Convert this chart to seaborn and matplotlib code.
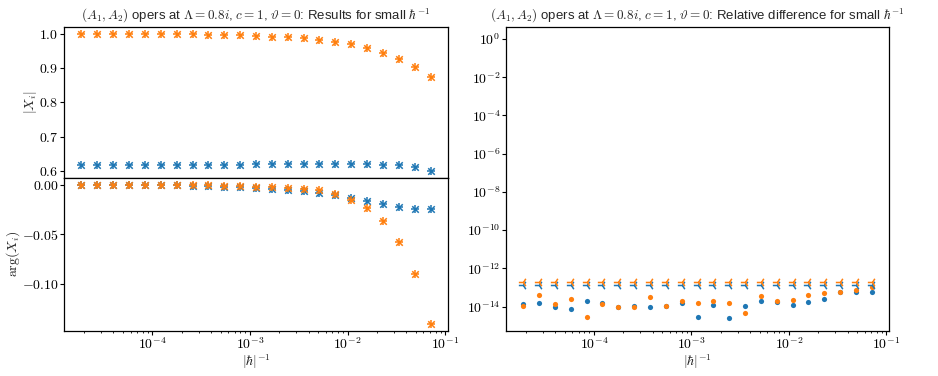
import numpy as np
import pandas as pd
import matplotlib
matplotlib.use("Agg")
import matplotlib.pyplot as plt
import seaborn as sns

sns.set_theme(style="ticks")
plt.rcParams["font.family"] = "cmr10"
plt.rcParams["mathtext.fontset"] = "cm"
plt.rcParams["axes.formatter.use_mathtext"] = True
plt.rcParams["axes.edgecolor"] = "black"
plt.rcParams["xtick.color"] = "black"
plt.rcParams["ytick.color"] = "black"
plt.rcParams["font.size"] = 10
plt.rcParams["axes.labelsize"] = 10
plt.rcParams["axes.labelpad"] = 2

BLUE = "#1f77b4"
ORANGE = "#ff7f0e"

# 1/|hbar| values
inv_hbar = [1.88e-5, 2.73e-5, 3.98e-5, 5.78e-5, 8.40e-5, 1.222e-4, 1.777e-4,
            2.583e-4, 3.756e-4, 5.46e-4, 7.94e-4, 1.155e-3, 1.679e-3, 2.441e-3,
            3.549e-3, 5.160e-3, 7.503e-3, 1.091e-2, 1.586e-2, 2.307e-2,
            3.354e-2, 4.876e-2, 7.09e-2]

# |X_i|
abs_x1 = [0.618, 0.618, 0.618, 0.618, 0.618, 0.618, 0.618, 0.618, 0.618, 0.618,
          0.618, 0.619, 0.620, 0.620, 0.621, 0.621, 0.621, 0.621, 0.620, 0.618,
          0.616, 0.610, 0.599]
abs_x2 = [1.0, 1.0, 1.0, 1.0, 0.9995, 0.9995, 0.999, 0.999, 0.998, 0.997,
          0.996, 0.994, 0.992, 0.990, 0.987, 0.982, 0.977, 0.969, 0.959, 0.945,
          0.927, 0.904, 0.873]

# arg(X_i)
arg_x1 = [-0.0001, -0.0001, -0.0002, -0.0002, -0.0003, -0.0003, -0.0004, -0.0006,
          -0.0010, -0.0017, -0.0024, -0.0030, -0.0040, -0.0050, -0.0064, -0.0080,
          -0.0100, -0.0135, -0.0160, -0.0193, -0.0220, -0.0243, -0.0243]
arg_x2 = [0.0, 0.0, 0.0, -0.0001, -0.0001, -0.0002, -0.0003, -0.0004,
          -0.0005, -0.0007, -0.0010, -0.0017, -0.0020, -0.0027, -0.0037, -0.0054,
          -0.0095, -0.0150, -0.0236, -0.0368, -0.0578, -0.0899, -0.1400]

# relative difference (log10)
log_diff1 = [-13.84, -13.82, -14.00, -14.12, -13.72, -13.82, -14.02, -13.95,
             -14.00, -13.95, -13.81, -14.55, -13.91, -14.62, -13.98, -13.72,
             -13.75, -13.93, -13.75, -13.59, -13.22, -13.24, -13.26]
log_diff2 = [-13.96, -13.38, -13.89, -13.59, -14.55, -13.89, -14.04, -14.04,
             -13.49, -13.96, -13.73, -13.81, -13.70, -13.79, -14.32, -13.42,
             -13.73, -13.63, -13.40, -13.31, -13.22, -13.12, -12.99]
log_est1 = [-12.88] * 23
log_est2 = [-12.71] * 23

df = pd.DataFrame({"x": inv_hbar, "abs1": abs_x1, "abs2": abs_x2,
                   "arg1": arg_x1, "arg2": arg_x2,
                   "d1": 10.0 ** np.array(log_diff1), "d2": 10.0 ** np.array(log_diff2),
                   "e1": 10.0 ** np.array(log_est1), "e2": 10.0 ** np.array(log_est2)})

fig = plt.figure(figsize=(9.38, 3.76), dpi=100)
W, H = 938, 376
ax_top = fig.add_axes([64 / W, 1 - 178 / H, 384 / W, 151 / H])
ax_bot = fig.add_axes([64 / W, 1 - 330.5 / H, 384 / W, 152.5 / H], sharex=ax_top)
ax_r = fig.add_axes([505.7 / W, 1 - 330.5 / H, 383.6 / W, 303.8 / H])


def stars(ax, ycol, color):
    # asterisk-like marker: plus and cross on top of each other
    sns.scatterplot(data=df, x="x", y=ycol, ax=ax, marker="+", s=36, color=color,
                    linewidth=1.1)
    sns.scatterplot(data=df, x="x", y=ycol, ax=ax, marker="x", s=22, color=color,
                    linewidth=1.1)


stars(ax_top, "abs1", BLUE)
stars(ax_top, "abs2", ORANGE)
stars(ax_bot, "arg1", BLUE)
stars(ax_bot, "arg2", ORANGE)

ax_top.set_xscale("log")
ax_top.set_ylabel(r"$|X_i|$", labelpad=0)
ax_top.set_xlabel("")
ax_top.set_yticks([0.6, 0.7, 0.8, 0.9, 1.0])
ax_top.set_yticklabels([r"$0.6$", r"$0.7$", r"$0.8$", r"$0.9$", r"$1.0$"])
ax_top.tick_params(labelbottom=False)
ax_bot.set_ylabel(r"$\arg(X_i)$", labelpad=0)
ax_bot.set_xlabel(r"$|\hbar|^{-1}$", labelpad=0.5)
ax_bot.set_yticks([0.0, -0.05, -0.10])
ax_bot.set_yticklabels([r"$0.00$", r"$-0.05$", r"$-0.10$"])

title_kw = dict(fontsize=9.5, family="Liberation Sans", pad=5)
ax_top.set_title(r"$(A_1, A_2)$ opers at $\Lambda = 0.8i$, $c = 1$, $\vartheta = 0$: "
                 r"Results for small $\hbar^{-1}$", **title_kw)

sns.scatterplot(data=df, x="x", y="d1", ax=ax_r, marker="o", s=14, color=BLUE,
                linewidth=0)
sns.scatterplot(data=df, x="x", y="d2", ax=ax_r, marker="o", s=14, color=ORANGE,
                linewidth=0)
sns.scatterplot(data=df, x="x", y="e1", ax=ax_r, marker="3", s=45, color=BLUE,
                linewidth=1.1)
sns.scatterplot(data=df, x="x", y="e2", ax=ax_r, marker="3", s=45, color=ORANGE,
                linewidth=1.1)
ax_r.set_xscale("log")
ax_r.set_yscale("log")
ax_r.set_ylim(10 ** -15.25, 10 ** 0.64)
ax_r.set_yticks([10.0 ** k for k in range(0, -15, -2)])
ax_r.yaxis.set_minor_locator(matplotlib.ticker.NullLocator())
ax_r.set_ylabel("")
ax_r.set_xlabel(r"$|\hbar|^{-1}$", labelpad=0.5)
ax_r.set_title(r"$(A_1, A_2)$ opers at $\Lambda = 0.8i$, $c = 1$, $\vartheta = 0$: "
               r"Relative difference for small $\hbar^{-1}$", **title_kw)

for ax in (ax_top, ax_bot, ax_r):
    for sp in ax.spines.values():
        sp.set_linewidth(0.9)
    ax.tick_params(which="major", length=2.7, width=0.8, labelsize=10, pad=1.2)
    ax.tick_params(which="minor", length=1.4, width=0.6)

fig.savefig("out.png", dpi=100)
